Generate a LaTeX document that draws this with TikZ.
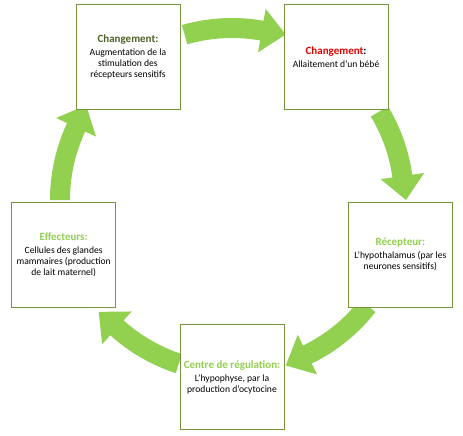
\documentclass[tikz,border=0pt]{standalone}
\usepackage{fontspec}
\setmainfont{Carlito}
\definecolor{cyclegreen}{HTML}{92D050}
\definecolor{boxline}{HTML}{77933C}
\definecolor{darkolive}{HTML}{4F6228}
\definecolor{changered}{HTML}{E00000}
\newcommand{\cyclearrow}[2]{%
  \pgfmathsetmacro{\headstart}{#2-8}
  \fill[cyclegreen] (#1:182) arc[start angle=#1, end angle=\headstart, radius=182]
    -- (\headstart:194) -- (#2:174) -- (\headstart:150) -- (\headstart:162)
    arc[start angle=\headstart, end angle=#1, radius=162] -- cycle;}
\newcommand{\boxtitle}[1]{{\fontsize{11}{12}\selectfont\bfseries #1}\\[2pt]}
\begin{document}
\begin{tikzpicture}[x=1pt, y=-1pt,
    box/.style={draw=boxline, line width=0.8pt, fill=white, minimum width=104pt,
      minimum height=105pt, inner sep=1pt, align=center,
      font=\fontsize{9.6}{11}\selectfont}]
  \useasboundingbox (0,0) rectangle (463,436);
  \begin{scope}[shift={(232,200)}]
    % arrows of the cycle
    \cyclearrow{-106}{-72}
    \cyclearrow{-31}{0}
    \cyclearrow{38}{72}
    \cyclearrow{108}{140}
    \cyclearrow{180}{213}
    % the five steps
    \draw
      (-126:177) node[box] (augmentation) {\boxtitle{\color{darkolive}Changement:}Augmentation de la\\stimulation des\\récepteurs sensitifs}
      (-54:177) node[box] (allaitement) {\boxtitle{{\color{changered}Changement}:}Allaitement d'un bébé}
      (18:177) node[box] (recepteur) {\boxtitle{\color{cyclegreen}Récepteur:}L'hypothalamus (par les\\neurones sensitifs)}
      (90:177) node[box] (centre) {\boxtitle{\color{cyclegreen}Centre de régulation:}L'hypophyse, par la\\production d'ocytocine}
      (162:177) node[box] (effecteurs) {\boxtitle{\color{cyclegreen}Effecteurs:}Cellules des glandes\\mammaires (production\\de lait maternel)};
  \end{scope}
\end{tikzpicture}
\end{document}
